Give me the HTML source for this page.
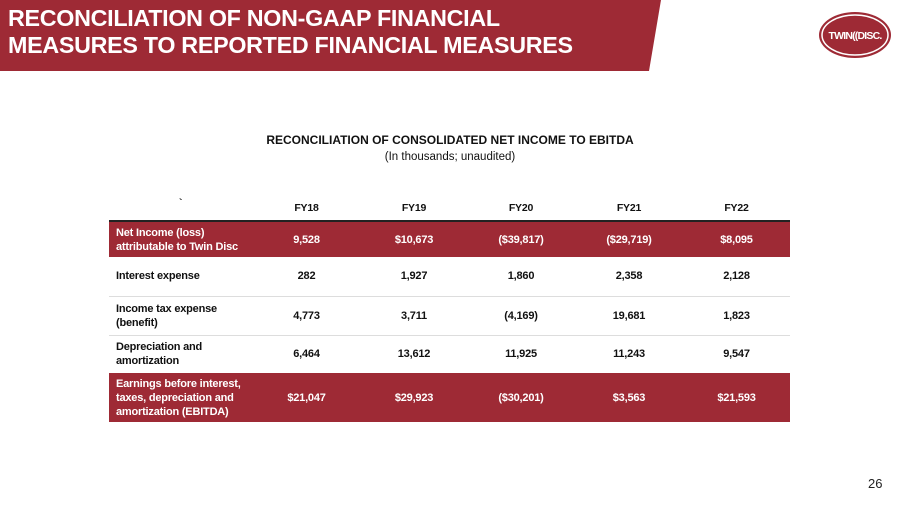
<!DOCTYPE html>
<html><head><meta charset="utf-8"><style>
body{margin:0;width:900px;height:506px;background:#fff;position:relative;overflow:hidden;font-family:"Liberation Sans",sans-serif}
.abs{position:absolute}
.banner{left:0;top:0;width:900px;height:71px}
.title{left:8px;top:5px;color:#fff;font-weight:bold;font-size:23.3px;line-height:27px;letter-spacing:-0.3px;white-space:nowrap}
table{position:absolute;left:109px;top:196px;width:681px;border-collapse:collapse;table-layout:fixed;font-size:11px;font-weight:bold;color:#111}
td{padding:0;text-align:center;letter-spacing:-0.2px}
td:first-child{text-align:left;padding-left:7px;line-height:14px}
tr.hd td{height:24px;border-bottom:2px solid #222;font-size:10.5px}
tr.red td{background:#9e2a35;color:#fff}
tr.w td{border-bottom:1px solid #ddd}
</style></head><body>
<svg class="abs banner" viewBox="0 0 900 71"><polygon points="0,0 661,0 649,71 0,71" fill="#9e2a35"/>
<g><ellipse cx="855" cy="35" rx="36" ry="23" fill="#9e2a35"/><ellipse cx="855" cy="35" rx="33" ry="20" fill="none" stroke="#fff" stroke-width="1.5"/><text x="855" y="39" text-anchor="middle" fill="#fff" font-family="Liberation Sans" font-weight="bold" font-size="10.5" letter-spacing="-0.8">TWIN((DISC.</text></g></svg>
<div class="abs title">RECONCILIATION OF NON-GAAP FINANCIAL<br>MEASURES TO REPORTED FINANCIAL MEASURES</div>
<div class="abs" style="left:0;width:900px;top:133px;text-align:center;font-size:12px;font-weight:bold;color:#111">RECONCILIATION OF CONSOLIDATED NET INCOME TO EBITDA</div>
<div class="abs" style="left:0;width:900px;top:151px;text-align:center;font-size:11.5px;color:#111">(In thousands; unaudited)</div>
<table>
<colgroup><col style="width:143px"><col style="width:109px"><col style="width:106px"><col style="width:108px"><col style="width:108px"><col style="width:107px"></colgroup>
<tr class="hd"><td style="padding-left:70px;vertical-align:top">`</td><td>FY18</td><td>FY19</td><td>FY20</td><td>FY21</td><td>FY22</td></tr>
<tr class="red" style="height:36px"><td>Net Income (loss) attributable to Twin Disc</td><td>9,528</td><td>$10,673</td><td>($39,817)</td><td>($29,719)</td><td>$8,095</td></tr>
<tr class="w" style="height:39px"><td>Interest expense</td><td>282</td><td>1,927</td><td>1,860</td><td>2,358</td><td>2,128</td></tr>
<tr class="w" style="height:39px"><td>Income tax expense (benefit)</td><td>4,773</td><td>3,711</td><td>(4,169)</td><td>19,681</td><td>1,823</td></tr>
<tr style="height:38px"><td>Depreciation and amortization</td><td>6,464</td><td>13,612</td><td>11,925</td><td>11,243</td><td>9,547</td></tr>
<tr class="red" style="height:49px"><td>Earnings before interest, taxes, depreciation and amortization (EBITDA)</td><td>$21,047</td><td>$29,923</td><td>($30,201)</td><td>$3,563</td><td>$21,593</td></tr>
</table>
<div class="abs" style="left:868px;top:476px;font-size:13px;color:#222">26</div>
</body></html>
